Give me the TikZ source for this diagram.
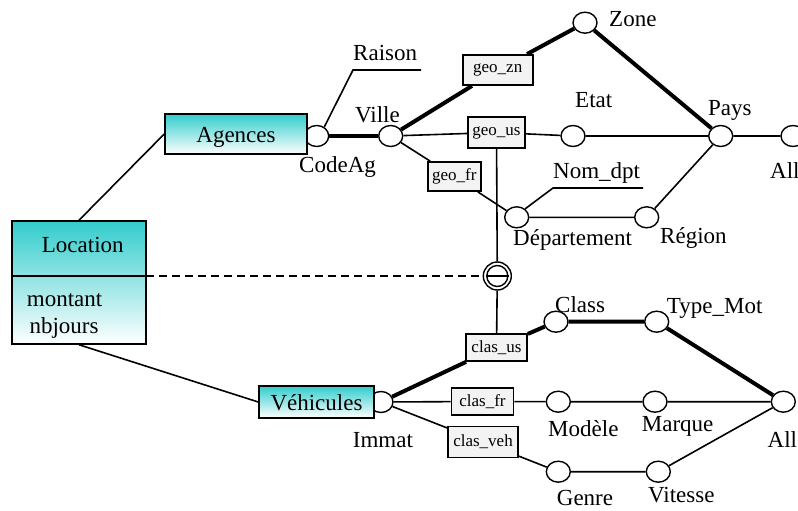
\documentclass[tikz,border=0pt]{standalone}
\usepackage{fontspec}
\setmainfont{Liberation Serif}
\usepackage{xcolor}
\usepackage{tikz}
\usetikzlibrary{shapes,positioning,backgrounds}
\definecolor{factteal}{RGB}{51,204,204}
\definecolor{relgray}{RGB}{243,243,243}

\begin{document}
\begin{tikzpicture}[
    x=1pt, y=-1pt,
    entity/.style={rectangle, draw, line width=1.5pt, top color=factteal, bottom color=white, inner sep=0pt, text height=16pt, text depth=0pt, font=\fontsize{23}{27}\selectfont},
    level/.style={ellipse, draw, fill=white, line width=1.4pt, minimum width=24pt, minimum height=21pt, inner sep=0pt},
    relbox/.style={rectangle, draw, fill=relgray, line width=1.8pt, inner sep=0pt, font=\fontsize{17}{20}\selectfont},
    lbl/.style={anchor=base west, inner sep=0pt, font=\fontsize{23}{27}\selectfont},
    link/.style={draw, line width=1.6pt},
    hier/.style={draw, line width=4pt}
]
    \useasboundingbox (0,0) rectangle (798,511);

    % Fact
    \node [entity, minimum width=134pt, minimum height=123pt] (loc) at (79,282.5) {};
    \coordinate (loc_splitW) at (12,276);
    \coordinate (loc_splitE) at (146,276);
    \path [link, line width=1.4pt] (loc_splitW) -- (loc_splitE);
    \node [lbl] (loc_title) at (41.7,252) {Location};
    \node [lbl] (loc_montant) at (26.7,306) {montant};
    \node [lbl] (loc_nbjours) at (29.3,333) {nbjours};

    % Dimension Agences
    \node [level] (codeag) at (316.7,136) {};
    \node [entity, minimum width=142pt, minimum height=40pt] (agences) at (236,134) {Agences};
    \node [level] (ville) at (390.7,136) {};
    \node [level] (zone) at (585,22.7) {};
    \node [level] (etat) at (573,136) {};
    \node [level] (pays) at (720.7,136) {};
    \node [level] (all_geo) at (793,136) {};
    \node [level] (dept) at (516.7,217.3) {};
    \node [level] (region) at (646.7,217.3) {};

    \node [relbox, minimum width=70pt, minimum height=30pt] (geo_zn) at (497.7,70) {geo\_zn};
    \node [relbox, minimum width=57pt, minimum height=31pt] (geo_us) at (496.5,132.5) {geo\_us};
    \node [relbox, minimum width=53pt, minimum height=29pt] (geo_fr) at (454.3,176.5) {geo\_fr};

    \coordinate (raison_bend) at (353,70);
    \coordinate (raison_end) at (421,70);
    \coordinate (nomdpt_bend) at (553,188);
    \coordinate (nomdpt_end) at (643,188);

    \node [lbl] (raison_lbl) at (353,60) {Raison};
    \node [lbl] (ville_lbl) at (355,122) {Ville};
    \node [lbl] (codeag_lbl) at (299,172.5) {CodeAg};
    \node [lbl] (zone_lbl) at (609,27) {Zone};
    \node [lbl] (etat_lbl) at (575,107) {Etat};
    \node [lbl] (pays_lbl) at (708,115) {Pays};
    \node [lbl] (all_geo_lbl) at (770,178) {All};
    \node [lbl] (nomdpt_lbl) at (553,178) {Nom\_dpt};
    \node [lbl] (dept_lbl) at (513,245) {Département};
    \node [lbl] (region_lbl) at (660,243) {Région};

    % Dimension Vehicules
    \node [level] (immat) at (381,402) {};
    \node [entity, minimum width=115pt, minimum height=32pt] (vehicules) at (316.5,402) {Véhicules};
    \node [level] (class) at (556,321.7) {};
    \node [level] (typemot) at (656.7,321.7) {};
    \node [level] (modele) at (558.3,401.7) {};
    \node [level] (marque) at (655,401.7) {};
    \node [level] (all_veh) at (783.3,401.7) {};
    \node [level] (genre) at (558.3,471.7) {};
    \node [level] (vitesse) at (658.3,471.7) {};

    \node [relbox, minimum width=61pt, minimum height=27pt] (clas_us) at (496.5,347.5) {clas\_us};
    \node [relbox, minimum width=62pt, minimum height=27pt] (clas_fr) at (482.5,401.5) {clas\_fr};
    \node [relbox, minimum width=70pt, minimum height=31pt] (clas_veh) at (483,442) {clas\_veh};

    \node [lbl] (immat_lbl) at (352.7,447.7) {Immat};
    \node [lbl] (class_lbl) at (555,312.7) {Class};
    \node [lbl] (typemot_lbl) at (666.7,313) {Type\_Mot};
    \node [lbl] (modele_lbl) at (548,436.7) {Modèle};
    \node [lbl] (marque_lbl) at (641.7,431.7) {Marque};
    \node [lbl] (all_veh_lbl) at (767.5,447.3) {All};
    \node [lbl] (genre_lbl) at (556.7,505) {Genre};
    \node [lbl] (vitesse_lbl) at (648,502) {Vitesse};

    % Exclusion between the two hierarchies
    \node [circle, draw, line width=1.4pt, minimum size=28pt, inner sep=0pt] (theta) at (497.3,276) {};
    \node [circle, draw, line width=1.4pt, minimum size=21pt, inner sep=0pt] (theta_in) at (theta) {};
    \path [link, line width=1.4pt] (theta_in.west) -- (theta_in.east);

    % Fact to dimensions
    \path [link] (loc.north) -- (agences.west);
    \path [link] (loc.south) -- (vehicules.west);
    \path [link, dash pattern=on 8pt off 5pt] (loc_splitE) -- (theta);
    \path [link] (geo_us) -- (theta);
    \path [link] (theta) -- (clas_us);

    % Geo hierarchies
    \path [hier] (codeag) -- (ville);
    \path [link] (codeag.50) -- (raison_bend) -- (raison_end);
    \path [hier] (ville) -- (geo_zn) -- (zone) -- (pays);
    \path [link] (ville) -- (geo_us) -- (etat) -- (pays) -- (all_geo);
    \path [link] (ville) -- (geo_fr) -- (dept) -- (region) -- (pays);
    \path [link] (dept.45) -- (nomdpt_bend) -- (nomdpt_end);

    % Vehicle hierarchies
    \path [hier] (immat) -- (clas_us) -- (class) -- (typemot) -- (all_veh);
    \path [link] (immat) -- (clas_fr) -- (modele) -- (marque) -- (all_veh);
    \path [link] (immat) -- (clas_veh) -- (genre) -- (vitesse) -- (all_veh);

\end{tikzpicture}
\end{document}
